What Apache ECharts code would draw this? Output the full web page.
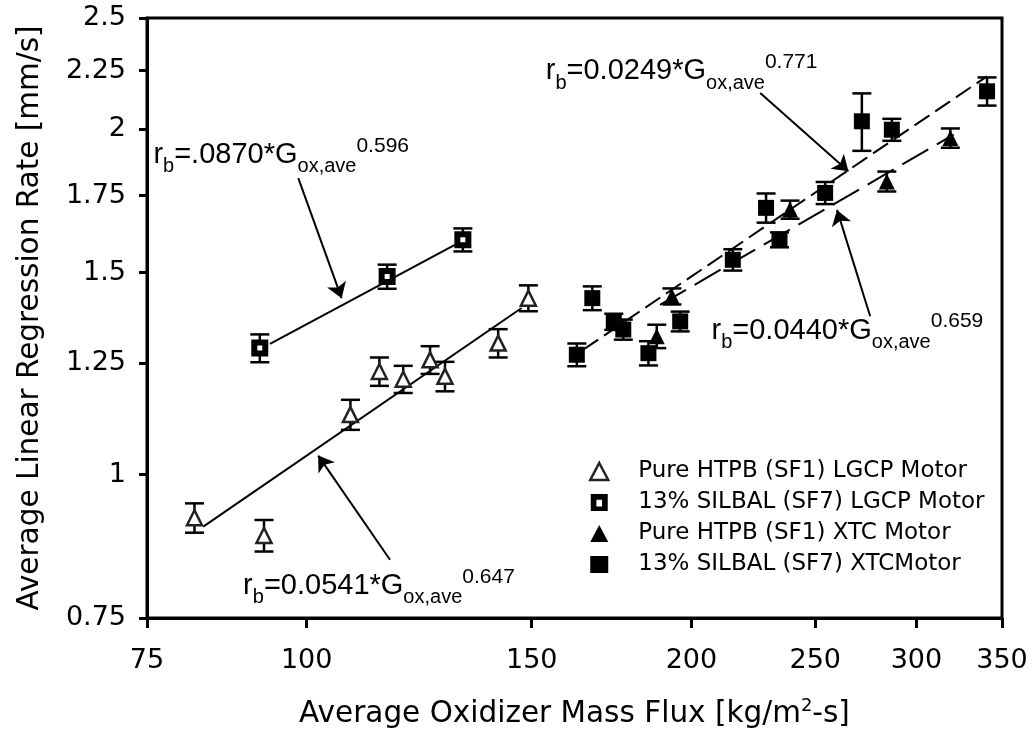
<!DOCTYPE html>
<html>
<head>
<meta charset="utf-8">
<title>Regression rate vs oxidizer mass flux</title>
<script src="https://cdn.jsdelivr.net/npm/echarts@6/dist/echarts.min.js"></script>
<style>
html, body { margin: 0; padding: 0; background: #fff; }
#resultChart { width: 1034px; height: 740px; }
</style>
</head>
<body>
<div id="resultChart"></div>
<script>
var FONT = 'DejaVu Sans, Liberation Sans, sans-serif';
var EQ_FONT = 'Liberation Sans, Arial, sans-serif';
var seriesNames = ['Pure HTPB (SF1) LGCP Motor', '13% SILBAL (SF7) LGCP Motor', 'Pure HTPB (SF1) XTC Motor', '13% SILBAL (SF7) XTCMotor'];
var xTicks = [75, 100, 150, 200, 250, 300, 350];
var yTicks = [0.75, 1, 1.25, 1.5, 1.75, 2, 2.25, 2.5];

// Pure HTPB (SF1) LGCP
var sf1LgcpFlux = [81.7, 92.6, 108.2, 114.0, 119.0, 124.9, 128.3, 141.2, 149.1];
var sf1LgcpRate = [0.917, 0.885, 1.128, 1.230, 1.211, 1.259, 1.218, 1.302, 1.425];
var sf1LgcpErr = [0.027, 0.028, 0.034, 0.035, 0.033, 0.035, 0.036, 0.037, 0.037];
// 13% SILBAL (SF7) LGCP
var sf7LgcpFlux = [91.9, 115.6, 132.5];
var sf7LgcpRate = [1.289, 1.488, 1.602];
var sf7LgcpErr = [0.036, 0.036, 0.037];
// Pure HTPB (SF1) XTC
var sf1XtcFlux = [187.9, 193.1, 238.9, 284.4, 318.9];
var sf1XtcRate = [1.320, 1.430, 1.702, 1.801, 1.965];
var sf1XtcErr = [0.031, 0.023, 0.031, 0.036, 0.038];
// 13% SILBAL (SF7) XTC
var sf7XtcFlux = [162.7, 167.3, 173.9, 176.9, 185.1, 196.0, 215.5, 228.8, 234.4, 254.5, 271.9, 287.0, 340.7];
var sf7XtcRate = [1.272, 1.425, 1.359, 1.338, 1.276, 1.360, 1.539, 1.708, 1.602, 1.760, 2.032, 1.998, 2.158];
var sf7XtcErr = [0.029, 0.034, 0.022, 0.027, 0.031, 0.027, 0.033, 0.050, 0.024, 0.039, 0.117, 0.044, 0.061];

// fit lines, end points
var fitSf1Lgcp = [[83.0, 0.901], [147.3, 1.397]];
var fitSf7Lgcp = [[93.6, 1.300], [130.6, 1.586]];
var fitSf1Xtc = [[189.0, 1.406], [320.8, 1.978]];
var fitSf7Xtc = [[164.6, 1.285], [340.7, 2.224]];

// equation labels: anchor, coefficient, exponent
var eqAt = [[75.8, 1.900], [89.1, 0.800], [153.7, 2.246], [207.2, 1.335]];
var eqCoef = ['=.0870*G', '=0.0541*G', '=0.0249*G', '=0.0440*G'];
var eqExp = ['0.596', '0.647', '0.771', '0.659'];
// arrows from label to line
var arrowFrom = [[98.5, 1.813], [116.2, 0.843], [226.4, 2.151], [276.0, 1.374]];
var arrowTo = [[106.5, 1.425], [102.1, 1.039], [265.4, 1.838], [260.0, 1.701]];

function zip(xs, ys) {
	var out = [];
	for (var i = 0; i < xs.length; i++) out.push([xs[i], ys[i]]);
	return out;
}
function bars(xs, ys, es) {
	var out = [];
	for (var i = 0; i < xs.length; i++) out.push([xs[i], ys[i] - es[i], ys[i] + es[i]]);
	return out;
}

function errorBarItem(params, api) {
	var x = api.value(0);
	var top = api.coord([x, api.value(2)]);
	var bot = api.coord([x, api.value(1)]);
	var half = 9.5;
	var st = { stroke: '#000', lineWidth: 2.5 };
	return {
		type: 'group',
		children: [
			{ type: 'line', shape: { x1: top[0], y1: top[1], x2: bot[0], y2: bot[1] }, style: st },
			{ type: 'line', shape: { x1: top[0] - half, y1: top[1], x2: top[0] + half, y2: top[1] }, style: st },
			{ type: 'line', shape: { x1: bot[0] - half, y1: bot[1], x2: bot[0] + half, y2: bot[1] }, style: st }
		]
	};
}
function errSeries(xs, ys, es) {
	return {
		type: 'custom',
		renderItem: errorBarItem,
		data: bars(xs, ys, es),
		encode: { x: 0, y: [1, 2] },
		silent: true,
		z: 2
	};
}
function fitSeries(pts, dash) {
	return {
		type: 'line',
		data: pts,
		showSymbol: false,
		symbol: 'none',
		silent: true,
		lineStyle: { color: '#000', width: 2, type: dash },
		z: 3
	};
}

var eqData = [];
for (var i = 0; i < eqAt.length; i++) {
	eqData.push({
		value: eqAt[i],
		label: { formatter: '{m|r}{sb|b}{m|' + eqCoef[i] + '}{sb|ox,ave}{sp|' + eqExp[i] + '}' }
	});
}
var arrowData = [];
for (var i = 0; i < arrowFrom.length; i++) {
	arrowData.push({ coords: [arrowFrom[i], arrowTo[i]] });
}

var myChart = echarts.init(document.getElementById('resultChart'));
var option = {
	backgroundColor: '#fff',
	animation: false,
	textStyle: { fontFamily: FONT, color: '#000' },
	grid: {
		left: 147, right: 32, top: 18, bottom: 122,
		show: true, borderColor: '#000', borderWidth: 3
	},
	legend: {
		orient: 'vertical',
		left: 589,
		top: 460,
		padding: 0,
		itemWidth: 18,
		itemHeight: 17,
		itemGap: 8,
		selectedMode: false,
		textStyle: { fontFamily: FONT, fontSize: 23, color: '#000', lineHeight: 23, padding: [0, 0, 0, 25] },
		data: [
			{ name: seriesNames[0], itemStyle: { color: '#fff', borderColor: '#222', borderWidth: 2.5 } },
			{ name: seriesNames[1], icon: 'path://M0,0H15V15H0Z M5,5V11H10V5Z', itemStyle: { color: '#000', borderWidth: 0 } },
			{ name: seriesNames[2] },
			{ name: seriesNames[3] }
		]
	},
	xAxis: {
		type: 'log',
		logBase: 10,
		min: 75,
		max: 350,
		name: 'Average Oxidizer Mass Flux [kg/m{sup|2}-s]',
		nameLocation: 'middle',
		nameGap: 79,
		nameTextStyle: {
			fontFamily: FONT, fontSize: 29.5, color: '#000',
			rich: { sup: { fontFamily: FONT, fontSize: 18, color: '#000', padding: [0, 0, 16, 0] } }
		},
		axisLine: { lineStyle: { color: '#000', width: 3 } },
		axisTick: { length: 10, lineStyle: { color: '#000', width: 3 }, customValues: xTicks },
		axisLabel: {
			customValues: xTicks,
			margin: 29,
			fontFamily: FONT,
			fontSize: 27,
			color: '#000',
			formatter: function (v) { return String(Math.round(v)); }
		},
		splitLine: { show: false },
		minorTick: { show: false }
	},
	yAxis: {
		type: 'log',
		logBase: 10,
		min: 0.75,
		max: 2.5,
		name: 'Average Linear Regression Rate [mm/s]',
		nameLocation: 'middle',
		nameRotate: 90,
		nameGap: 102,
		nameTextStyle: { fontFamily: FONT, fontSize: 29.5, color: '#000' },
		axisLine: { lineStyle: { color: '#000', width: 3 } },
		axisTick: { length: 8, lineStyle: { color: '#000', width: 3 }, customValues: yTicks },
		axisLabel: {
			customValues: yTicks,
			margin: 21,
			fontFamily: FONT,
			fontSize: 27,
			color: '#000',
			formatter: function (v) { return String(Math.round(v * 100) / 100); }
		},
		splitLine: { show: false }
	},
	series: [
		errSeries(sf1LgcpFlux, sf1LgcpRate, sf1LgcpErr),
		errSeries(sf7LgcpFlux, sf7LgcpRate, sf7LgcpErr),
		errSeries(sf1XtcFlux, sf1XtcRate, sf1XtcErr),
		errSeries(sf7XtcFlux, sf7XtcRate, sf7XtcErr),
		fitSeries(fitSf1Lgcp, 'solid'),
		fitSeries(fitSf7Lgcp, 'solid'),
		fitSeries(fitSf1Xtc, [30, 10]),
		fitSeries(fitSf7Xtc, [18, 7]),
		{
			name: seriesNames[0],
			type: 'scatter',
			data: zip(sf1LgcpFlux, sf1LgcpRate),
			symbol: 'triangle',
			symbolSize: 15,
			itemStyle: { color: '#fff', borderColor: '#222', borderWidth: 2.5, opacity: 1 },
			z: 4
		},
		{
			name: seriesNames[1],
			type: 'scatter',
			data: zip(sf7LgcpFlux, sf7LgcpRate),
			symbol: 'rect',
			symbolSize: 11,
			itemStyle: { color: '#fff', borderColor: '#000', borderWidth: 6, opacity: 1 },
			z: 4
		},
		{
			name: seriesNames[2],
			type: 'scatter',
			data: zip(sf1XtcFlux, sf1XtcRate),
			symbol: 'triangle',
			symbolSize: 16,
			itemStyle: { color: '#000', opacity: 1 },
			z: 4
		},
		{
			name: seriesNames[3],
			type: 'scatter',
			data: zip(sf7XtcFlux, sf7XtcRate),
			symbol: 'rect',
			symbolSize: 16,
			itemStyle: { color: '#000', opacity: 1 },
			z: 4
		},
		{
			type: 'lines',
			coordinateSystem: 'cartesian2d',
			data: arrowData,
			symbol: ['none', 'arrow'],
			symbolSize: [9, 15],
			silent: true,
			lineStyle: { color: '#000', width: 2, opacity: 1 },
			z: 5
		},
		{
			type: 'scatter',
			data: eqData,
			symbolSize: 1,
			silent: true,
			itemStyle: { color: 'rgba(0,0,0,0)' },
			label: {
				show: true,
				position: 'right',
				distance: 0,
				color: '#000',
				opacity: 1,
				rich: {
					m: { fontFamily: EQ_FONT, fontSize: 29, color: '#000' },
					sb: { fontFamily: EQ_FONT, fontSize: 20, color: '#000', padding: [24, 0, 0, 0] },
					sp: { fontFamily: EQ_FONT, fontSize: 21, color: '#000', padding: [0, 0, 18, 0] }
				}
			},
			z: 6
		}
	]
};
myChart.setOption(option);
</script>
</body>
</html>
